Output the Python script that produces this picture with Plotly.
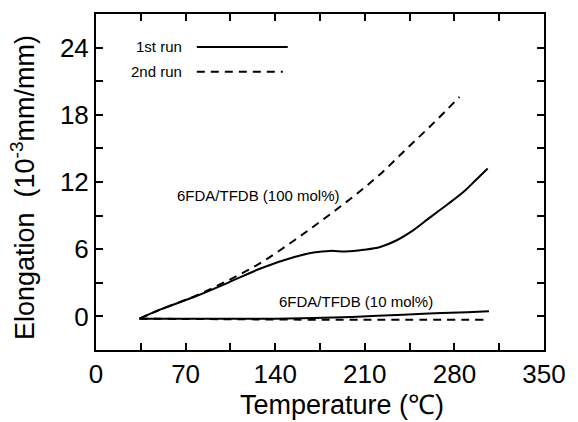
import plotly.graph_objects as go

# ---- data ----
run_names = ["1st run", "2nd run"]

t_run1_100 = [34, 50, 78, 103, 129, 155, 170, 183, 195, 209, 222, 235, 248, 260, 274, 287, 297, 306]
e_run1_100 = [-0.2, 0.6, 1.8, 3.0, 4.3, 5.3, 5.7, 5.85, 5.8, 5.95, 6.2, 6.8, 7.7, 8.75, 9.95, 11.1, 12.2, 13.2]

t_run2_100 = [34, 50, 78, 103, 129, 155, 178, 201, 222, 243, 264, 284]
e_run2_100 = [-0.2, 0.6, 1.85, 3.2, 4.8, 6.8, 8.7, 10.7, 12.7, 15.0, 17.3, 19.6]

t_run1_10 = [34, 60, 100, 140, 170, 200, 230, 260, 290, 307]
e_run1_10 = [-0.2, -0.2, -0.2, -0.2, -0.15, -0.05, 0.1, 0.25, 0.38, 0.45]

t_run2_10 = [34, 100, 180, 240, 304]
e_run2_10 = [-0.2, -0.25, -0.3, -0.3, -0.3]

label_100 = "6FDA/TFDB (100 mol%)"
label_10 = "6FDA/TFDB (10 mol%)"

x_ticks = [0, 70, 140, 210, 280, 350]
y_ticks = [0, 6, 12, 18, 24]

FONT = "Liberation Sans, Arial, sans-serif"
solid = dict(color="black", width=2)
dashed = dict(color="black", width=2, dash="8px,6px")

fig = go.Figure()
fig.add_trace(go.Scatter(x=t_run1_100, y=e_run1_100, mode="lines", line=solid, line_shape="spline", showlegend=False))
fig.add_trace(go.Scatter(x=t_run2_100, y=e_run2_100, mode="lines", line=dashed, line_shape="spline", showlegend=False))
fig.add_trace(go.Scatter(x=t_run1_10, y=e_run1_10, mode="lines", line=solid, line_shape="spline", showlegend=False))
fig.add_trace(go.Scatter(x=t_run2_10, y=e_run2_10, mode="lines", line=dashed, line_shape="spline", showlegend=False))

axis_common = dict(
    showline=True, linecolor="black", linewidth=2, mirror="ticks",
    ticks="inside", ticklen=7, tickwidth=1.5, tickcolor="black",
    showgrid=False, zeroline=False,
    tickfont=dict(family=FONT, size=26, color="black"),
)

fig.update_xaxes(range=[0, 350], tickvals=x_ticks, ticktext=[str(v) for v in x_ticks],
                 minor=dict(dtick=35, tick0=0, ticks="inside", ticklen=7, tickcolor="black", tickwidth=1.5),
                 ticklabelstandoff=0, **axis_common)
fig.update_yaxes(range=[-3, 27], tickvals=y_ticks, ticktext=[str(v) for v in y_ticks],
                 minor=dict(dtick=3, tick0=0, ticks="inside", ticklen=7, tickcolor="black", tickwidth=1.5),
                 ticklabelstandoff=0, **axis_common)

annotations = [
    dict(x=127, y=10.8, xref="x", yref="y", text=label_100, showarrow=False,
         font=dict(family=FONT, size=15, color="black")),
    dict(x=203, y=1.3, xref="x", yref="y", text=label_10, showarrow=False,
         font=dict(family=FONT, size=15, color="black")),
    dict(x=0.196, y=0.902, xref="paper", yref="paper", text=run_names[0], showarrow=False,
         xanchor="right", yanchor="middle", font=dict(family=FONT, size=15, color="black")),
    dict(x=0.196, y=0.828, xref="paper", yref="paper", text=run_names[1], showarrow=False,
         xanchor="right", yanchor="middle", font=dict(family=FONT, size=15, color="black")),
    dict(x=0.548, y=-0.163, xref="paper", yref="paper", text="Temperature (℃)", showarrow=False,
         yanchor="middle", font=dict(family=FONT, size=27, color="black")),
    dict(x=-0.163, y=0.485, xref="paper", yref="paper", text="Elongation  (10<sup>-3</sup>mm/mm)",
         textangle=-90, showarrow=False, xanchor="center", yanchor="middle",
         font=dict(family=FONT, size=27, color="black")),
]

shapes = [
    dict(type="line", xref="paper", yref="paper", x0=0.225, x1=0.428, y0=0.902, y1=0.902,
         line=dict(color="black", width=2)),
    dict(type="line", xref="paper", yref="paper", x0=0.225, x1=0.417, y0=0.828, y1=0.828,
         line=dict(color="black", width=2, dash="8px,6px")),
]

fig.update_layout(
    width=578, height=422,
    margin=dict(l=96, r=29, t=12, b=72),
    paper_bgcolor="white", plot_bgcolor="white",
    annotations=annotations, shapes=shapes,
    font=dict(family=FONT, color="black"),
)

fig.write_html("out.html")
